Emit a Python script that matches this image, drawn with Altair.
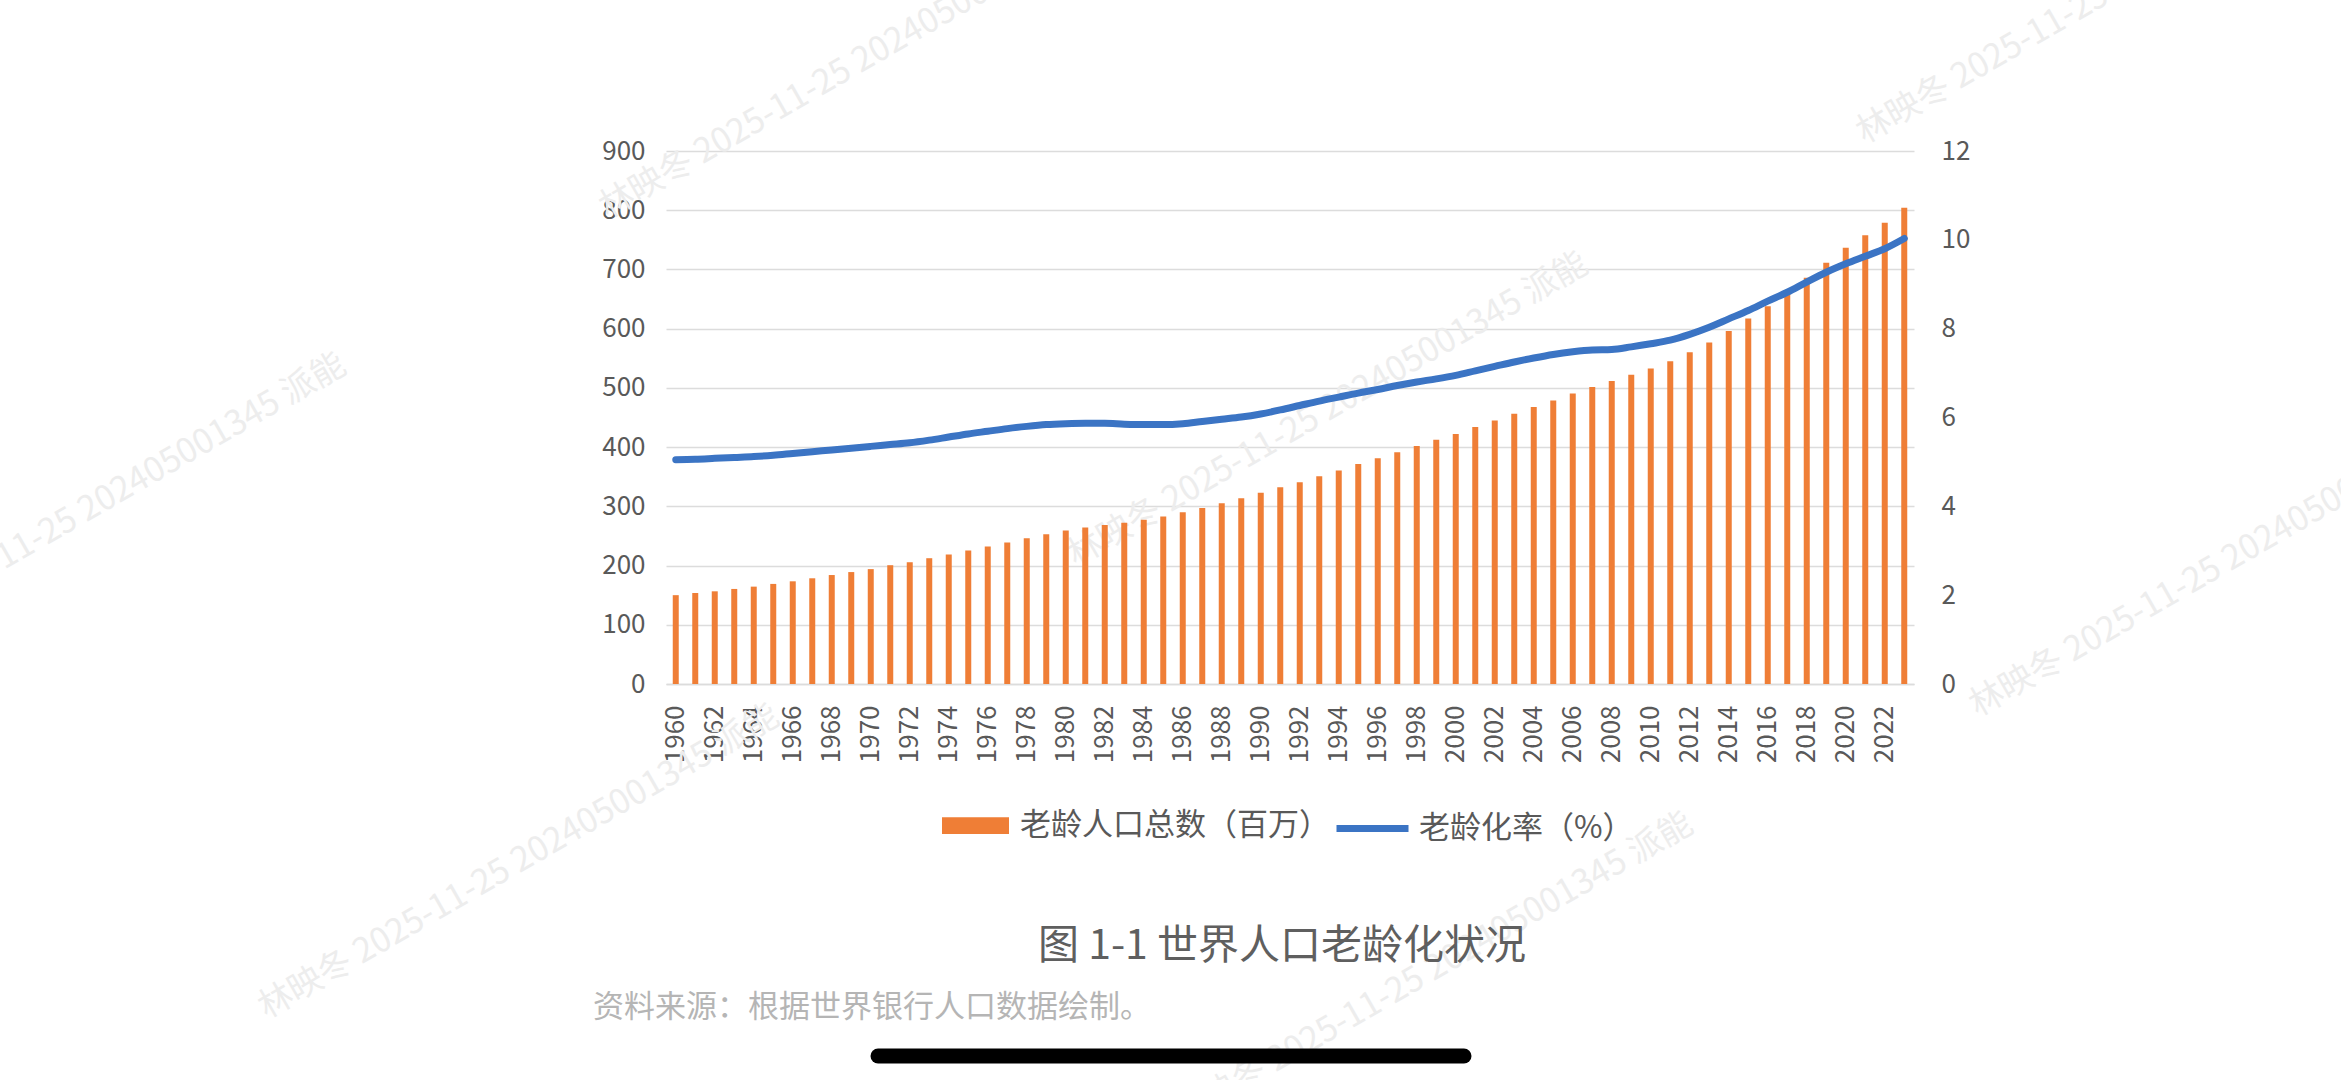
import altair as alt
import pandas as pd

# World population aged 65+ (millions) and share of total population (%), 1960-2023
years = list(range(1960, 2024))
elderly_millions = [
    150.0, 153.7, 156.5, 160.5, 164.4, 169.0, 173.4, 178.5, 184.0, 189.0,
    194.0, 200.6, 205.6, 212.4, 218.6, 225.4, 232.2, 239.0, 246.3, 253.0,
    259.3, 264.4, 268.4, 272.3, 277.4, 283.0, 289.8, 297.2, 305.0, 313.8,
    322.8, 332.4, 340.8, 351.0, 360.6, 371.3, 381.4, 391.5, 401.7, 412.4,
    422.0, 433.8, 445.0, 456.3, 467.6, 478.9, 490.7, 501.4, 511.5, 522.0,
    532.7, 545.0, 560.0, 576.6, 596.0, 617.0, 638.0, 660.0, 686.0, 711.5,
    736.8, 757.7, 779.0, 804.0,
]
aging_rate = [
    5.05, 5.06, 5.08, 5.10, 5.12, 5.15, 5.19, 5.23, 5.27, 5.31,
    5.35, 5.39, 5.43, 5.49, 5.56, 5.63, 5.69, 5.75, 5.80, 5.84,
    5.86, 5.87, 5.87, 5.85, 5.84, 5.84, 5.86, 5.91, 5.96, 6.01,
    6.08, 6.17, 6.27, 6.37, 6.46, 6.55, 6.63, 6.72, 6.80, 6.87,
    6.95, 7.05, 7.15, 7.25, 7.34, 7.42, 7.48, 7.52, 7.53, 7.59,
    7.66, 7.74, 7.87, 8.03, 8.22, 8.41, 8.62, 8.82, 9.05, 9.27,
    9.46, 9.63, 9.80, 10.03,
]
left_ticks = [0, 100, 200, 300, 400, 500, 600, 700, 800, 900]
right_ticks = [0, 2, 4, 6, 8, 10, 12]
year_labels = [str(y) for y in years if y % 2 == 0]

BAR_LABEL = "老龄人口总数（百万）"
LINE_LABEL = "老龄化率（%）"
TITLE = "图 1-1 世界人口老龄化状况"
SOURCE = "资料来源：根据世界银行人口数据绘制。"
WATERMARK = "林映冬 2025-11-25 202405001345 派能"

df = pd.DataFrame({
    "year": [str(y) for y in years],
    "pop": elderly_millions,
    "rate": aging_rate,
    "s1": BAR_LABEL,
    "s2": LINE_LABEL,
})
one = pd.DataFrame({"k": [0]})

# page / plot geometry
PAGE_W, PAGE_H = 2341, 1080
LEFT, TOP = 666, 151
W, H = 1248, 533

FONT = "Noto Sans CJK SC"
ORANGE = "#EF7E36"
BLUE = "#3B74C4"
GRID = "#dcdcdc"
TEXT = "#595959"

x_enc = alt.X(
    "year:O",
    scale=alt.Scale(paddingInner=0, paddingOuter=0),
    axis=alt.Axis(
        values=year_labels, labelAngle=270, labelFontSize=26, labelFont=FONT,
        labelColor=TEXT, labelPadding=21, ticks=False, tickSize=0,
        domainColor=GRID, domainWidth=1.5, grid=False, title=None,
    ),
)

bars = alt.Chart(df).mark_bar(size=6).encode(
    x=x_enc,
    y=alt.Y(
        "pop:Q",
        scale=alt.Scale(domain=[0, 900], nice=False),
        axis=alt.Axis(
            orient="left", values=left_ticks, labelFontSize=26, labelFont=FONT,
            labelColor=TEXT, labelPadding=21, ticks=False, tickSize=0,
            domain=False, grid=True, gridColor=GRID, gridWidth=1.5, title=None,
        ),
    ),
    color=alt.Color(
        "s1:N",
        scale=alt.Scale(range=[ORANGE]),
        legend=alt.Legend(
            title=None, orient="none", legendX=276, legendY=641,
            symbolType="M-1,-0.25H1V0.25H-1Z", symbolSize=4489,
            symbolStrokeWidth=0, symbolOpacity=1,
            labelFontSize=31, labelFont=FONT, labelColor=TEXT,
            labelOffset=11, labelLimit=800, padding=0,
        ),
    ),
)

line = alt.Chart(df).mark_line(
    strokeWidth=7, interpolate="monotone", strokeCap="round", strokeJoin="round"
).encode(
    x=x_enc,
    y=alt.Y(
        "rate:Q",
        scale=alt.Scale(domain=[0, 12], nice=False),
        axis=alt.Axis(
            orient="right", values=right_ticks, labelFontSize=26, labelFont=FONT,
            labelColor=TEXT, labelPadding=27, ticks=False, tickSize=0,
            domain=False, grid=False, title=None,
        ),
    ),
    stroke=alt.Stroke(
        "s2:N",
        scale=alt.Scale(range=[BLUE]),
        legend=alt.Legend(
            title=None, orient="none", legendX=667, legendY=638,
            symbolType="stroke", symbolSize=5184, symbolStrokeWidth=7,
            labelFontSize=31, labelFont=FONT, labelColor=TEXT,
            labelOffset=7, labelLimit=800, padding=0,
        ),
    ),
)

# caption below the chart and the data source note
caption = alt.Chart(one).mark_text(
    text=TITLE, font=FONT, fontSize=41, color="#5f5f5f",
    align="center", baseline="middle",
).encode(x=alt.value(1282 - LEFT), y=alt.value(947 - TOP))

source = alt.Chart(one).mark_text(
    text=SOURCE, font=FONT, fontSize=31, color="#b5b5b5",
    align="left", baseline="middle",
).encode(x=alt.value(593 - LEFT), y=alt.value(1008 - TOP))

# faint diagonal watermark stamps
stamp_centres = [(860, 62), (1328, 410), (86, 511), (519, 862),
                 (1433, 970), (2117, -13), (2230, 560)]
stamps = [
    alt.Chart(one).mark_text(
        text=WATERMARK, font=FONT, fontSize=34, color="#ededed",
        angle=330, align="center", baseline="middle",
    ).encode(x=alt.value(cx - LEFT), y=alt.value(cy - TOP))
    for cx, cy in stamp_centres
]

# home indicator bar at the bottom of the screen
home_bar = alt.Chart(one).mark_rule(
    color="black", strokeWidth=15, strokeCap="round"
).encode(
    x=alt.value(878 - LEFT), x2=alt.value(1464 - LEFT), y=alt.value(1056 - TOP)
)

chart = alt.layer(
    *stamps, bars, line, caption, source, home_bar
).resolve_scale(
    y="independent"
).properties(
    width=W, height=H,
    autosize=alt.AutoSizeParams(type="none"),
    padding={"left": LEFT, "top": TOP, "right": PAGE_W - LEFT - W,
             "bottom": PAGE_H - TOP - H},
    background="white",
).configure_view(stroke=None)

chart.save("out.html", embed_options={"renderer": "svg", "actions": False})
